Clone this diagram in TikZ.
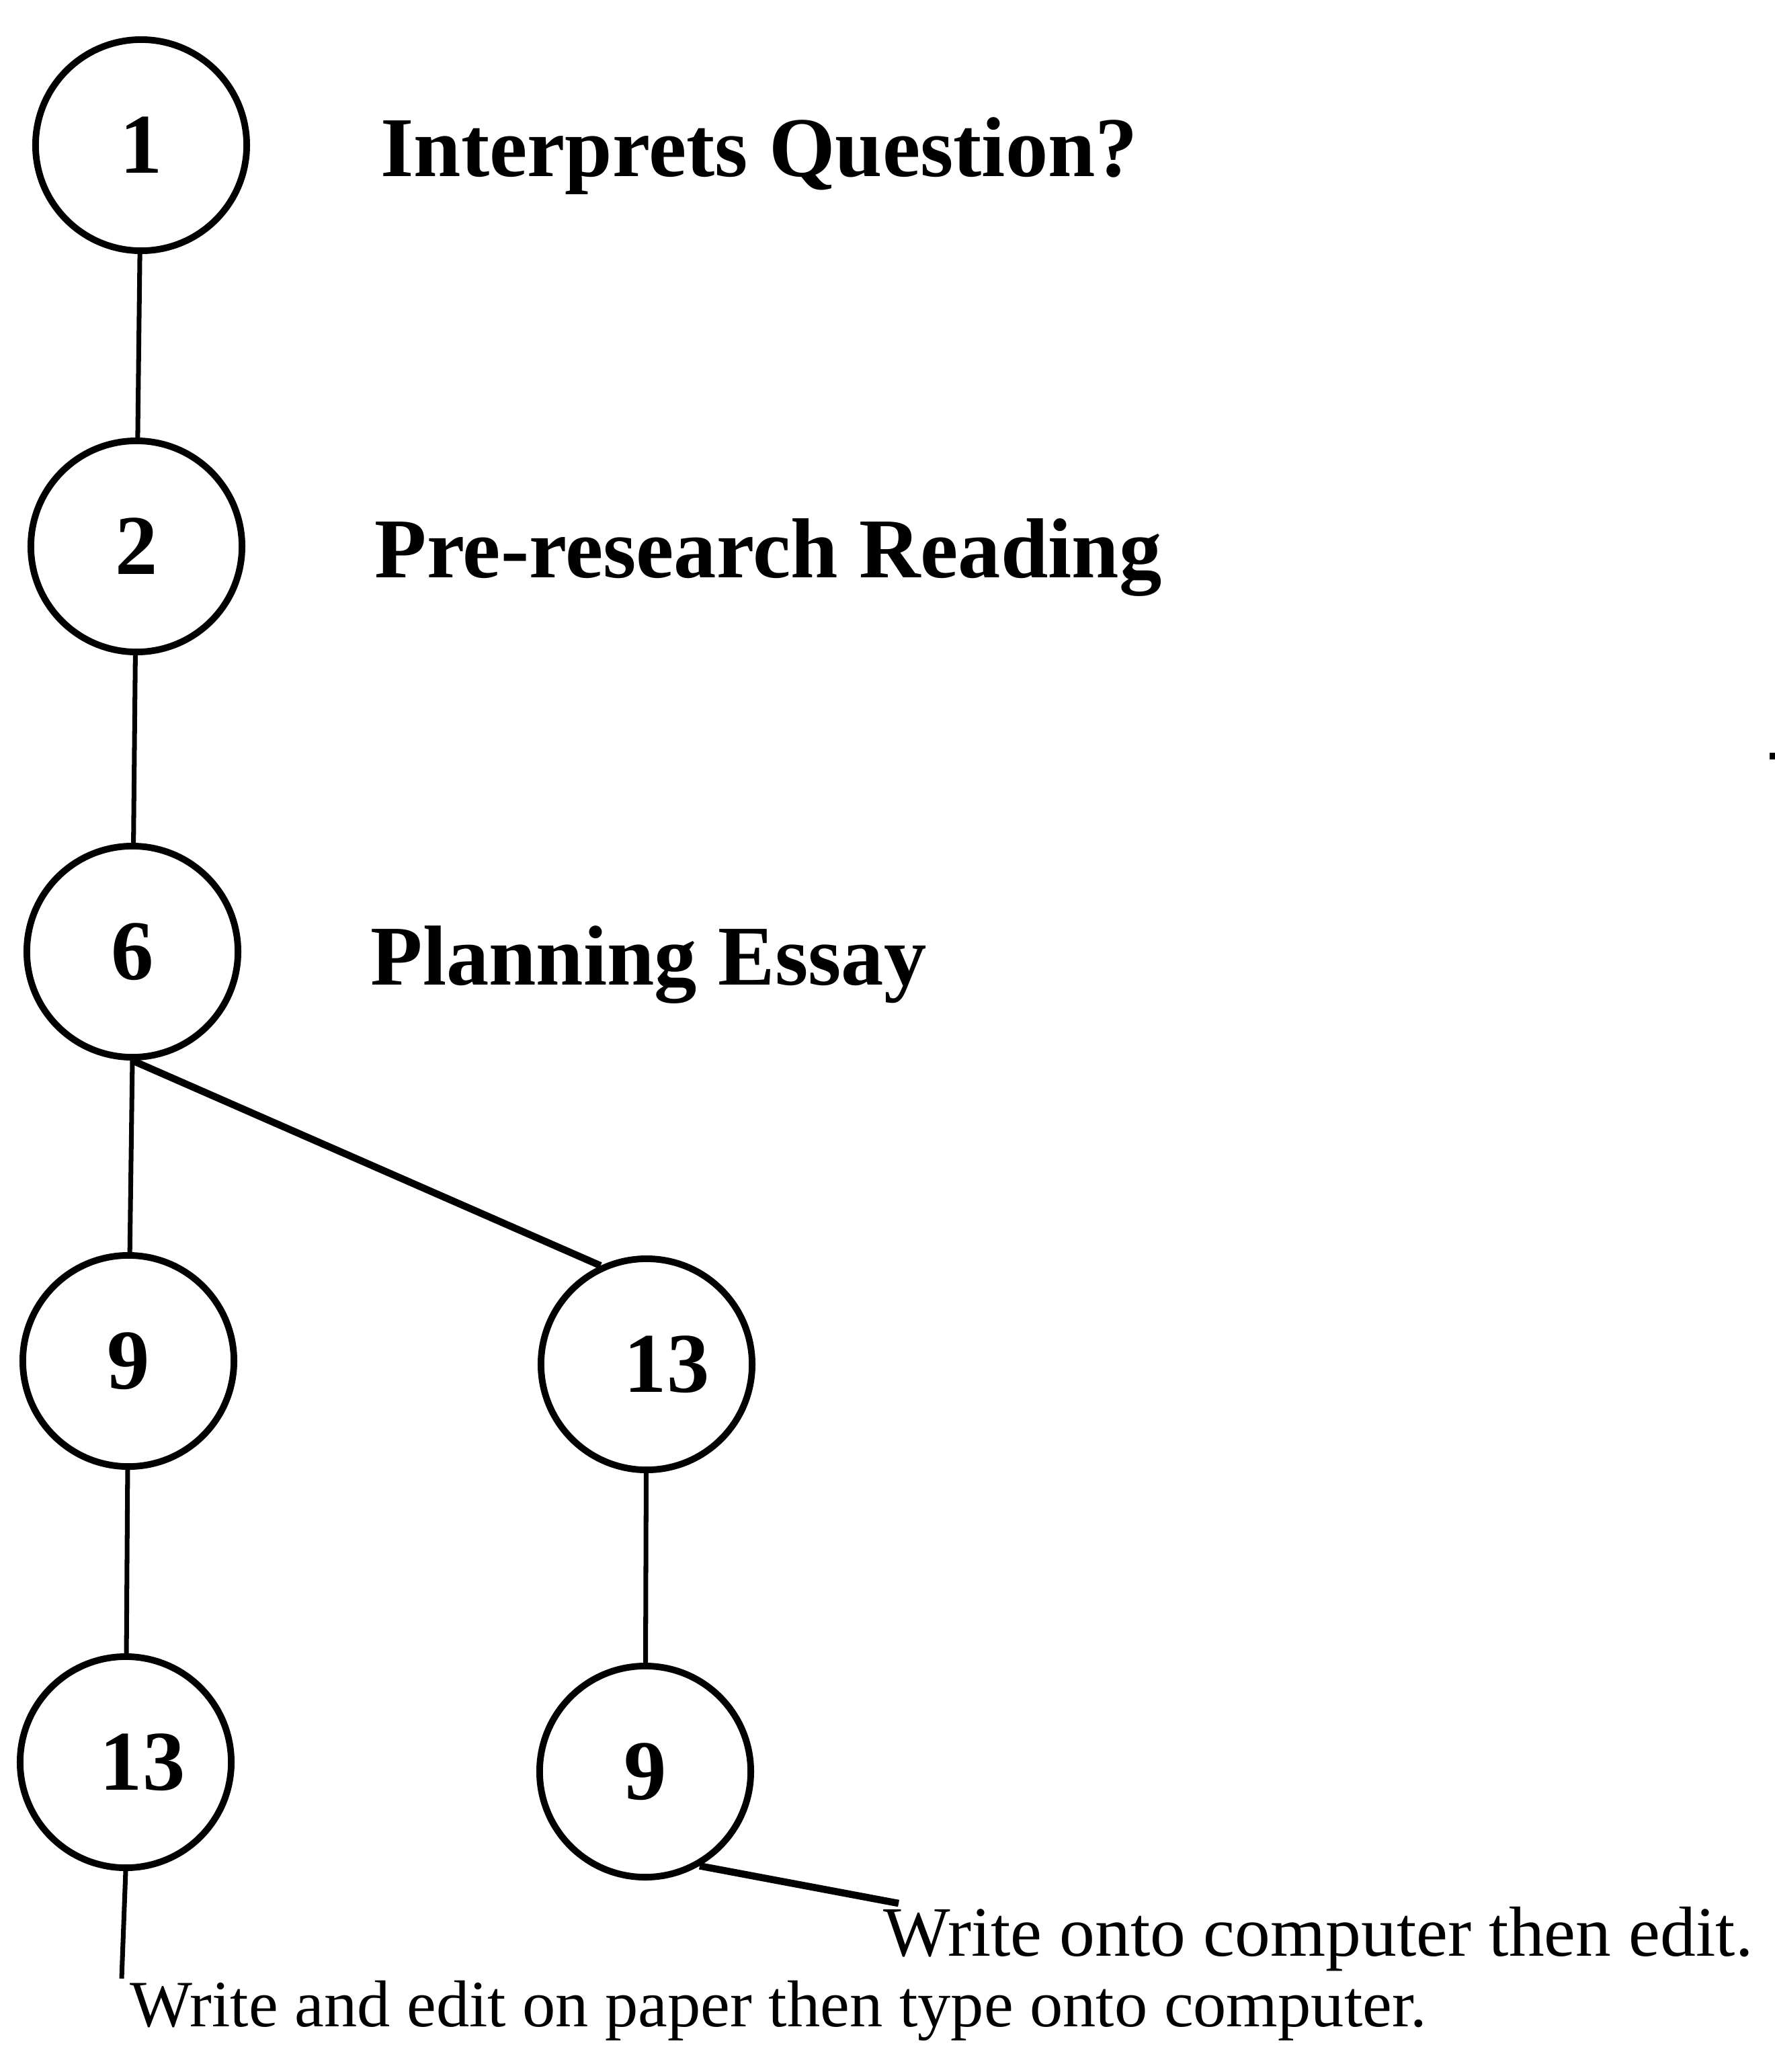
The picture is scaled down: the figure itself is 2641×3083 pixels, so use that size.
\documentclass[tikz,border=0pt]{standalone}
\usepackage{fontspec}
\setmainfont{Liberation Serif}
\begin{document}
\begin{tikzpicture}[x=0.01cm,y=-0.01cm,
  stage/.style={circle,draw,line width=2.8pt,minimum size=3.14cm,inner sep=0pt,font=\fontsize{36}{40}\selectfont\bfseries},
  heading/.style={anchor=base west,inner sep=0pt,font=\fontsize{36}{40}\selectfont\bfseries},
  note/.style={anchor=base west,inner sep=0pt},
  link/.style={line width=2pt},
  thicklink/.style={line width=3pt}]
\useasboundingbox (0,0) rectangle (2641,3083);
\node[stage] (n1) at (210,216) {1};
\node[heading] (h1) at (566,262) {Interprets Question?};
\node[stage] (n2) at (203,813) {2};
\node[heading] (h2) at (557,859) {Pre-research Reading};
\node[stage] (n6) at (197,1416) {6};
\node[heading] (h6) at (551,1465) {Planning Essay};
\node[stage] (n9a) at (191,2025) {9};
\node[stage] (n13a) at (962,2030) {\kern0.6cm 13};
\node[stage] (n13b) at (187,2622) {\kern0.5cm 13};
\node[stage] (n9b) at (960,2636) {9};
\node[note,font=\fontsize{30}{34}\selectfont] (w2) at (1314,2910) {Write onto computer then edit.};
\node[note,font=\fontsize{28}{32}\selectfont] (w1) at (193,3015) {Write and edit on paper then type onto computer.};
\coordinate (e1) at (181,2944);
\coordinate (e2) at (1337,2832);
\draw[link] (n1) -- (n2);
\draw[link] (n2) -- (n6);
\draw[link] (n6.south) -- (n9a);
\draw[thicklink] (n6.south) -- (n13a.115);
\draw[link] (n9a) -- (n13b);
\draw[link] (n13a) -- (n9b);
\draw[link] (n13b.south) -- (e1);
\draw[thicklink] (n9b.-60) -- (e2);
\fill (2633,1120) rectangle (2641,1130);
\end{tikzpicture}
\end{document}
